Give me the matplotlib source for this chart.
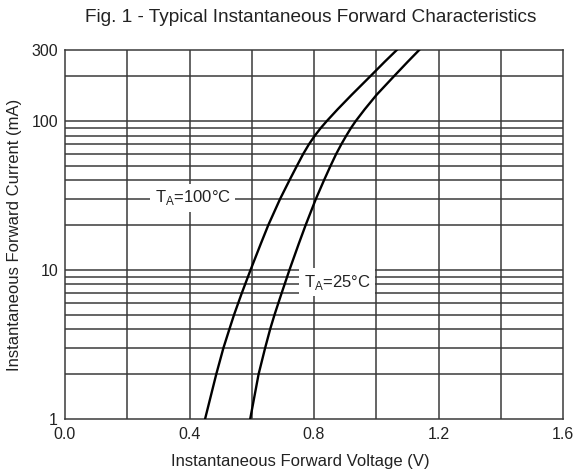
import matplotlib.pyplot as plt
from matplotlib.ticker import FixedLocator, NullFormatter

plt.rcParams['font.family'] = ['Liberation Sans', 'DejaVu Sans']

# Forward current points (mA) and the voltage (V)
current_100c = [1, 2, 3, 4, 5, 7, 10, 15, 20, 30, 40, 50, 60, 70, 80, 90, 100,
                120, 150, 200, 250, 300]
voltage_100c = [0.450, 0.486, 0.509, 0.528, 0.543, 0.568, 0.596, 0.629, 0.653,
                0.691, 0.721, 0.745, 0.765, 0.784, 0.803, 0.822, 0.841,
                0.876, 0.921, 0.981, 1.027, 1.066]

current_25c = [1, 2, 3, 4, 5, 7, 10, 15, 20, 30, 40, 50, 60, 70, 80, 90, 100,
               120, 150, 200, 250, 300]
voltage_25c = [0.595, 0.622, 0.643, 0.659, 0.673, 0.696, 0.721, 0.751, 0.773,
               0.806, 0.832, 0.853, 0.871, 0.888, 0.904, 0.919, 0.934,
               0.963, 1.001, 1.057, 1.101, 1.138]

x_ticks = [0.0, 0.4, 0.8, 1.2, 1.6]
x_grid = [0.2, 0.4, 0.6, 0.8, 1.0, 1.2, 1.4]
y_ticks = [1, 10, 100, 300]
y_grid = [2, 3, 4, 5, 6, 7, 8, 9, 10, 20, 30, 40, 50, 60, 70, 80, 90, 100, 200]

grid_color = '#3a3a3a'
text_color = '#222222'

fig = plt.figure(figsize=(5.75, 4.75), dpi=100)
ax = fig.add_axes([65 / 575, 1 - 419 / 475, (563 - 65) / 575, (419 - 50) / 475])

ax.set_xlim(0, 1.6)
ax.set_yscale('log')
ax.set_ylim(1, 300)

# grid drawn as plain lines so the labels can mask them
for xv in x_grid:
    ax.axvline(xv, color=grid_color, lw=1.1, zorder=1)
for yv in y_grid:
    ax.axhline(yv, color=grid_color, lw=1.1, zorder=1)

ax.plot(voltage_100c, current_100c, color='black', lw=1.7, zorder=3,
        solid_joinstyle='round')
ax.plot(voltage_25c, current_25c, color='black', lw=1.7, zorder=3,
        solid_joinstyle='round')

ax.text(0.41, 30.5, r'T$_\mathregular{A}$=100°C', fontsize=12, ha='center', va='center',
        color=text_color, bbox=dict(facecolor='white', edgecolor='none', pad=3), zorder=2)
ax.text(0.874, 8.3, r'T$_\mathregular{A}$=25°C', fontsize=12, ha='center', va='center',
        color=text_color, bbox=dict(facecolor='white', edgecolor='none', pad=3.5), zorder=2)

ax.set_xticks(x_ticks)
ax.set_xticklabels(['0.0', '0.4', '0.8', '1.2', '1.6'])
ax.yaxis.set_major_locator(FixedLocator(y_ticks))
ax.yaxis.set_minor_locator(FixedLocator([]))
ax.yaxis.set_minor_formatter(NullFormatter())
ax.set_yticklabels(['1', '10', '100', '300'])
ax.tick_params(axis='both', length=0, labelsize=11.5, colors=text_color)
ax.tick_params(axis='x', pad=6)
ax.tick_params(axis='y', pad=5)

for side in ax.spines.values():
    side.set_color(grid_color)
    side.set_linewidth(1.1)

ax.set_xlabel('Instantaneous Forward Voltage (V)', fontsize=12, color=text_color)
ax.xaxis.set_label_coords(0.472, -0.095)
ax.set_ylabel('Instantaneous Forward Current (mA)', fontsize=12, color=text_color, labelpad=7)
fig.text(311 / 575, 1 - 18 / 475, 'Fig. 1 - Typical Instantaneous Forward Characteristics',
         fontsize=13.7, ha='center', va='center', color=text_color)

fig.savefig('out.png', dpi=100)
